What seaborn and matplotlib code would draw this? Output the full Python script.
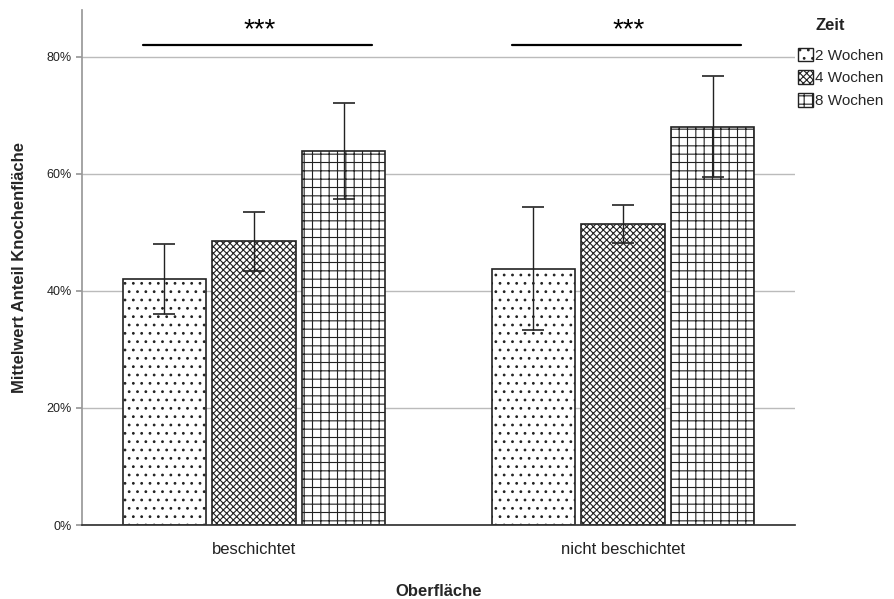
import matplotlib
matplotlib.use("Agg")
import matplotlib.pyplot as plt
import seaborn as sns
import pandas as pd
import numpy as np
from matplotlib.ticker import PercentFormatter
from matplotlib.patches import Patch

surfaces = ["beschichtet", "nicht beschichtet"]
times = ["2 Wochen", "4 Wochen", "8 Wochen"]
means_besch = [0.420, 0.485, 0.639]
means_nicht = [0.438, 0.515, 0.680]
lo_besch = [0.361, 0.434, 0.557]
hi_besch = [0.480, 0.535, 0.721]
lo_nicht = [0.333, 0.482, 0.595]
hi_nicht = [0.544, 0.547, 0.768]
sig_labels = ["***", "***"]
sig_level = 0.82

rows = []
for s, m, lo, hi in [(surfaces[0], means_besch, lo_besch, hi_besch),
                     (surfaces[1], means_nicht, lo_nicht, hi_nicht)]:
    for t, mv, l, h in zip(times, m, lo, hi):
        rows.append(dict(Oberflaeche=s, Zeit=t, mean=mv, lo=l, hi=h))
df = pd.DataFrame(rows)

sns.set_theme(style="white")
plt.rcParams["font.family"] = ["Liberation Sans", "DejaVu Sans"]
plt.rcParams["hatch.linewidth"] = 0.8

fig = plt.figure(figsize=(8.94, 5.99), dpi=100)
ax = fig.add_axes([82/894, 1-525/599, (795-82)/894, (525-10)/599])

sns.barplot(data=df, x="Oberflaeche", y="mean", hue="Zeit", order=surfaces,
            hue_order=times, errorbar=None, width=0.73, gap=0.075,
            palette=["white"]*3, edgecolor="#222222",
            linewidth=1.2, ax=ax, legend=False)

bar_containers = list(ax.containers)
hatches = ["..", "xxxxx", "++"]
for ci, cont in enumerate(bar_containers):
    for si, bar in enumerate(cont.patches):
        bar.set_hatch(hatches[ci])
        sub = df[(df.Zeit == times[ci]) & (df.Oberflaeche == surfaces[si])].iloc[0]
        xc = bar.get_x() + bar.get_width() / 2
        ax.errorbar(xc, sub["mean"],
                    yerr=[[sub["mean"] - sub["lo"]], [sub["hi"] - sub["mean"]]],
                    fmt="none", ecolor="#222222", elinewidth=1.0, capsize=8,
                    capthick=1.2, zorder=5)

# significance bars
for si in range(len(surfaces)):
    c = si
    ax.plot([c - 0.30, c + 0.32], [sig_level, sig_level], color="black", lw=1.6,
            clip_on=False)
    ax.text(c + 0.015, sig_level + 0.004, sig_labels[si], ha="center",
            va="bottom", fontsize=20, color="black")

ax.set_xlim(-0.466, 1.466)
ax.set_ylim(0, 0.88)
ax.set_yticks([0, 0.2, 0.4, 0.6, 0.8])
ax.yaxis.set_major_formatter(PercentFormatter(1.0, decimals=0))
ax.grid(axis="y", color="#bbbbbb", linewidth=1)
ax.set_axisbelow(True)
for sp in ["top", "right"]:
    ax.spines[sp].set_visible(False)
ax.spines["left"].set_color("#999999")
ax.spines["bottom"].set_color("#333333")
ax.tick_params(axis="y", labelsize=9, length=4, color="#999999", left=True,
               labelcolor="#222222")
ax.tick_params(axis="x", labelsize=12, length=0, pad=12, labelcolor="#222222")
ax.set_xlabel("Oberfläche", fontsize=12, fontweight="bold", labelpad=20)
ax.set_ylabel("Mittelwert Anteil Knochenfläche", fontsize=12, fontweight="bold",
              labelpad=14)

fig.text(830/894, 1-25/599, "Zeit", ha="center", va="center", fontsize=12,
         fontweight="bold", color="#222222")
handles = [Patch(facecolor="white", edgecolor="#222222", hatch=h) for h in hatches]
leg = fig.legend(handles, times, loc="upper left",
                 bbox_to_anchor=(790/894, 1-40/599), frameon=False, fontsize=11,
                 handlelength=1.0, handleheight=1.0, handletextpad=0.15,
                 labelspacing=0.5, borderpad=0)

fig.savefig("out.png", dpi=100)
